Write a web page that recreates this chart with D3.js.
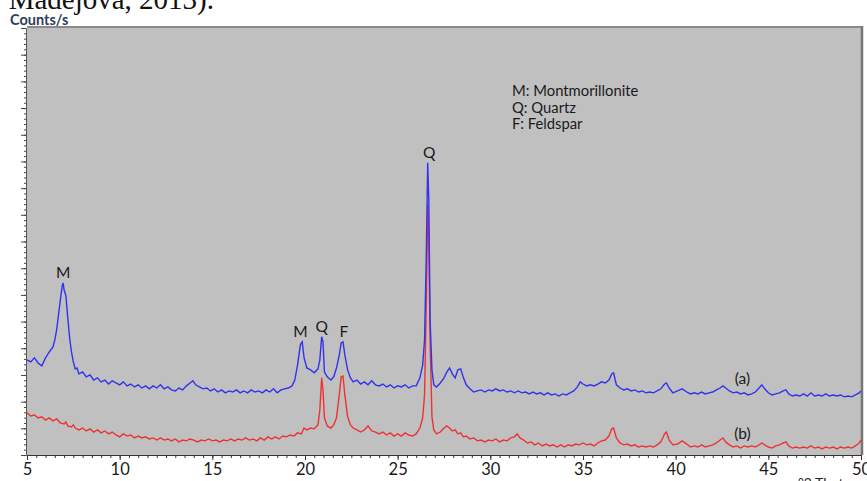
<!DOCTYPE html>
<html>
<head>
<meta charset="utf-8">
<script src="https://cdn.jsdelivr.net/npm/d3@7"></script>
<style>
  body { margin: 0; background: #fff; overflow: hidden; }
  svg { display: block; font-family: Lato, "Open Sans", sans-serif; }
</style>
</head>
<body>
<div id="xrd-chart"></div>
<script>
// scan (a): [2theta, counts/s]
const scanA = [
  [5.0,356],[5.2,349],[5.4,364],[5.6,345],[5.8,334],[6.0,364],[6.2,386],[6.4,405],[6.5,431],[6.6,469],
  [6.7,525],[6.8,581],[6.9,634],[6.95,645],[7.0,619],[7.1,596],[7.2,514],[7.3,439],[7.4,386],[7.5,349],
  [7.6,323],[7.7,326],[7.8,304],[8.0,311],[8.2,293],[8.4,300],[8.6,281],[8.8,289],[9.0,274],[9.2,281],
  [9.4,266],[9.6,278],[9.8,270],[10.0,263],[10.2,274],[10.4,259],[10.6,266],[10.8,255],[11.0,263],[11.2,251],
  [11.4,259],[11.6,248],[11.8,259],[12.0,251],[12.2,263],[12.4,248],[12.6,255],[12.8,244],[13.0,240],[13.2,251],
  [13.4,244],[13.6,259],[13.8,270],[13.95,278],[14.1,263],[14.3,255],[14.5,248],[14.7,251],[14.9,240],[15.1,248],
  [15.3,236],[15.5,244],[15.7,233],[15.9,240],[16.1,236],[16.3,244],[16.5,233],[16.7,240],[16.9,233],[17.1,244],
  [17.3,236],[17.5,240],[17.7,233],[17.9,244],[18.1,236],[18.3,248],[18.5,233],[18.7,244],[18.9,248],[19.1,251],
  [19.3,259],[19.45,281],[19.6,338],[19.75,413],[19.85,424],[19.95,364],[20.1,326],[20.3,319],[20.5,308],[20.7,323],
  [20.8,356],[20.9,443],[20.97,424],[21.05,311],[21.2,293],[21.4,281],[21.55,293],[21.7,326],[21.85,375],[21.95,420],
  [22.05,424],[22.15,375],[22.3,319],[22.45,289],[22.6,274],[22.8,281],[23.0,266],[23.2,274],[23.4,263],[23.6,278],
  [23.8,263],[24.0,259],[24.2,266],[24.4,255],[24.6,263],[24.8,251],[25.0,259],[25.2,255],[25.4,263],[25.6,251],
  [25.8,259],[26.0,259],[26.2,289],[26.35,338],[26.45,431],[26.55,769],[26.62,1095],[26.68,956],[26.75,506],[26.85,319],
  [26.95,263],[27.1,255],[27.3,270],[27.5,289],[27.65,311],[27.8,326],[27.95,304],[28.1,289],[28.25,319],[28.4,323],
  [28.55,289],[28.7,263],[28.9,248],[29.1,236],[29.3,240],[29.5,244],[29.7,236],[29.9,244],[30.1,240],[30.3,248],
  [30.5,240],[30.7,244],[30.9,236],[31.1,240],[31.3,233],[31.5,240],[31.7,233],[31.9,236],[32.1,229],[32.3,236],
  [32.5,229],[32.7,233],[32.9,225],[33.1,233],[33.3,225],[33.5,229],[33.7,221],[33.9,229],[34.1,225],[34.3,233],
  [34.5,240],[34.7,255],[34.85,274],[35.0,266],[35.2,259],[35.4,263],[35.6,259],[35.8,266],[36.0,274],[36.2,270],
  [36.4,281],[36.55,304],[36.65,308],[36.8,263],[37.0,251],[37.2,244],[37.4,248],[37.6,240],[37.8,244],[38.0,236],
  [38.2,240],[38.4,233],[38.6,236],[38.8,233],[39.0,240],[39.2,248],[39.4,266],[39.5,270],[39.65,251],[39.85,233],
  [40.1,240],[40.35,248],[40.6,236],[40.8,229],[41.0,233],[41.2,229],[41.4,236],[41.6,229],[41.8,233],[42.0,236],
  [42.2,244],[42.4,251],[42.55,259],[42.7,251],[42.9,240],[43.1,233],[43.3,236],[43.5,229],[43.7,233],[43.9,225],
  [44.1,229],[44.3,236],[44.5,251],[44.65,263],[44.8,248],[45.0,233],[45.2,225],[45.4,229],[45.6,233],[45.8,240],
  [45.95,244],[46.1,229],[46.3,221],[46.5,225],[46.7,221],[46.9,229],[47.1,221],[47.3,233],[47.5,221],[47.7,225],
  [47.9,221],[48.1,229],[48.3,221],[48.5,225],[48.7,221],[48.9,225],[49.1,218],[49.3,221],[49.5,218],[49.7,225],
  [49.9,233],[50.0,240]
];

// scan (b): [2theta, counts/s]
const scanB = [
  [5.0,158],[5.2,146],[5.4,150],[5.6,139],[5.8,143],[6.0,131],[6.2,139],[6.4,128],[6.6,135],[6.8,120],
  [7.0,116],[7.1,124],[7.2,109],[7.4,105],[7.5,113],[7.6,101],[7.8,94],[8.0,101],[8.2,90],[8.4,98],
  [8.6,86],[8.8,94],[9.0,83],[9.2,90],[9.4,79],[9.6,86],[9.8,75],[10.0,68],[10.2,79],[10.4,71],
  [10.6,75],[10.8,64],[11.0,71],[11.2,64],[11.4,68],[11.6,60],[11.8,64],[12.0,56],[12.2,64],[12.4,56],
  [12.6,60],[12.8,53],[13.0,60],[13.2,49],[13.4,56],[13.6,53],[13.8,60],[14.0,56],[14.2,49],[14.4,56],
  [14.6,53],[14.8,60],[15.0,53],[15.2,56],[15.4,49],[15.6,56],[15.8,53],[16.0,60],[16.2,53],[16.4,60],
  [16.6,56],[16.8,64],[17.0,56],[17.2,60],[17.4,53],[17.6,64],[17.8,56],[18.0,68],[18.2,60],[18.4,68],
  [18.6,60],[18.8,71],[19.0,68],[19.2,75],[19.4,71],[19.6,83],[19.8,79],[19.95,101],[20.1,94],[20.3,101],
  [20.5,98],[20.7,113],[20.8,169],[20.9,289],[20.97,244],[21.05,139],[21.2,109],[21.4,101],[21.55,113],[21.7,139],
  [21.85,225],[21.95,293],[22.05,296],[22.15,225],[22.3,143],[22.45,113],[22.6,101],[22.8,94],[23.0,86],[23.2,94],
  [23.4,109],[23.6,90],[23.8,86],[24.0,79],[24.2,86],[24.4,75],[24.6,83],[24.8,71],[25.0,79],[25.2,71],
  [25.4,83],[25.6,75],[25.8,71],[26.0,79],[26.2,101],[26.35,139],[26.45,225],[26.55,581],[26.62,938],[26.68,806],
  [26.75,431],[26.85,143],[26.95,94],[27.1,79],[27.3,86],[27.5,101],[27.65,109],[27.8,101],[27.95,90],[28.1,94],
  [28.25,79],[28.4,83],[28.55,68],[28.7,71],[28.9,60],[29.1,64],[29.3,53],[29.5,56],[29.7,49],[29.9,56],
  [30.1,53],[30.3,60],[30.5,49],[30.7,56],[30.9,53],[31.1,64],[31.3,68],[31.45,79],[31.6,64],[31.8,56],
  [32.0,45],[32.2,49],[32.4,38],[32.6,45],[32.8,34],[33.0,41],[33.2,34],[33.4,38],[33.6,30],[33.8,38],
  [34.0,30],[34.2,38],[34.4,34],[34.6,41],[34.8,38],[35.0,45],[35.2,38],[35.4,41],[35.6,34],[35.8,45],
  [36.0,53],[36.2,56],[36.4,71],[36.55,98],[36.65,101],[36.8,64],[37.0,45],[37.2,38],[37.4,41],[37.6,34],
  [37.8,38],[38.0,30],[38.2,34],[38.4,30],[38.6,34],[38.8,30],[39.0,38],[39.2,49],[39.4,79],[39.5,86],
  [39.65,56],[39.85,38],[40.1,41],[40.35,53],[40.6,41],[40.8,30],[41.0,34],[41.2,30],[41.4,38],[41.6,30],
  [41.8,34],[42.0,38],[42.2,45],[42.4,56],[42.55,64],[42.7,49],[42.9,38],[43.1,30],[43.3,34],[43.5,26],
  [43.7,34],[43.9,30],[44.1,34],[44.3,30],[44.5,38],[44.65,45],[44.8,38],[45.0,30],[45.2,26],[45.4,34],
  [45.6,38],[45.8,45],[45.95,49],[46.1,34],[46.3,26],[46.5,30],[46.7,26],[46.9,30],[47.1,26],[47.3,34],
  [47.5,26],[47.7,30],[47.9,23],[48.1,30],[48.3,26],[48.5,30],[48.7,23],[48.9,30],[49.1,26],[49.3,30],
  [49.5,26],[49.7,34],[49.9,45],[50.0,56]
];

const xTickValues = [5, 10, 15, 20, 25, 30, 35, 40, 45, 50];
const peakNames = ["M", "M", "Q", "F", "Q"];
const peakThetas = [6.95, 19.75, 20.9, 22.1, 26.7];
const legendLines = ["M: Montmorillonite", "Q: Quartz", "F: Feldspar"];
const scanNames = ["(a)", "(b)"];
const scanLabelAt = [[43.6, 266], [43.6, 60]];

const svg = d3
  .select("#xrd-chart")
  .append("svg")
  .attr("width", 867)
  .attr("height", 481);

const x = d3.scaleLinear().domain([5, 50]).range([27, 861]);
const y = d3.scaleLinear().domain([0, 1600]).range([455, 28]);

// caption text from the page above, cut off at the top
svg
  .append("text")
  .attr("x", 214)
  .attr("y", 9)
  .attr("text-anchor", "end")
  .style("font-family", "'Liberation Serif', serif")
  .style("font-size", "29px")
  .attr("fill", "#111")
  .text("Madejova, 2013).");

// plot background
svg
  .append("rect")
  .attr("x", 27)
  .attr("y", 27)
  .attr("width", 835)
  .attr("height", 428)
  .attr("fill", "#c0c0c0");

svg.append("line").attr("x1", 27).attr("x2", 862).attr("y1", 27).attr("y2", 27)
  .attr("stroke", "#8a8a8a").attr("stroke-width", 2);
svg.append("line").attr("x1", 862).attr("x2", 862).attr("y1", 26).attr("y2", 455)
  .attr("stroke", "#767676").attr("stroke-width", 2.5);

svg.append("clipPath").attr("id", "plot-clip")
  .append("rect").attr("x", 27).attr("y", 27).attr("width", 835).attr("height", 428);

const line = d3.line().x((d) => x(d[0])).y((d) => y(d[1]));

const traces = svg.append("g").attr("clip-path", "url(#plot-clip)");
traces.append("path").datum(scanB).attr("d", line)
  .attr("fill", "none").attr("stroke", "#ee3232").attr("stroke-width", 1.4);
traces.append("path").datum(scanA).attr("d", line)
  .attr("fill", "none").attr("stroke", "#3232ee").attr("stroke-width", 1.4);

// x axis
const xAxisG = svg.append("g").attr("transform", "translate(0,455)");
xAxisG.append("g")
  .call(d3.axisBottom(x).tickValues(d3.range(5, 50.01, 0.5)).tickSize(3).tickFormat(""))
  .call((g) => g.select(".domain").remove());
xAxisG.append("g")
  .call(d3.axisBottom(x).tickValues(xTickValues).tickSize(5).tickPadding(3).tickFormat(d3.format("d")))
  .call((g) => g.select(".domain").attr("stroke", "#333"))
  .call((g) => g.selectAll("text").style("font-size", "16.5px").style("font-family", "Lato, sans-serif").attr("fill", "#1a1a1a"));
xAxisG.selectAll("line").attr("stroke", "#333");

// y axis
const yAxisG = svg.append("g").attr("transform", "translate(26,0)");
yAxisG.append("g")
  .call(d3.axisLeft(y).tickValues(d3.range(0, 1601, 20)).tickSize(2).tickFormat(""))
  .call((g) => g.select(".domain").remove());
yAxisG.append("g")
  .call(d3.axisLeft(y).tickValues(d3.range(0, 1601, 100)).tickSize(5).tickFormat(""))
  .call((g) => g.select(".domain").attr("stroke", "#555"));
yAxisG.selectAll("line").attr("stroke", "#444");

svg.append("text")
  .attr("x", 10).attr("y", 25)
  .style("font-size", "14.5px").style("font-weight", "bold")
  .attr("fill", "#2f3d5c")
  .text("Counts/s");

svg.append("text")
  .attr("x", 798).attr("y", 488)
  .style("font-size", "14px")
  .attr("fill", "#222")
  .text("°2 Theta");

// peak labels above scan (a)
peakNames.forEach((name, i) => {
  const t = peakThetas[i];
  const top = d3.max(scanA.filter((d) => Math.abs(d[0] - t) < 0.2), (d) => d[1]);
  svg.append("text")
    .attr("x", x(t))
    .attr("y", y(top) - 5)
    .attr("text-anchor", "middle")
    .style("font-size", "15.5px")
    .attr("fill", "#1a1a1a")
    .text(name);
});

scanNames.forEach((name, i) => {
  svg.append("text")
    .attr("x", x(scanLabelAt[i][0]))
    .attr("y", y(scanLabelAt[i][1]))
    .attr("text-anchor", "middle")
    .style("font-size", "15.5px")
    .attr("fill", "#1a1a1a")
    .text(name);
});

const legend = svg.append("g").attr("transform", "translate(512,96)");
legendLines.forEach((txt, i) => {
  legend.append("text")
    .attr("y", i * 16.5)
    .style("font-size", "14.8px")
    .attr("fill", "#1a1a1a")
    .text(txt);
});
</script>
</body>
</html>
